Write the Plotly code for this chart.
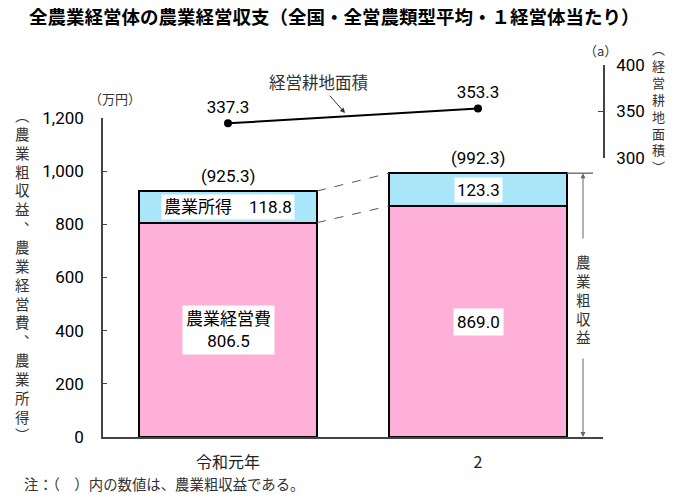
import plotly.graph_objects as go

# ---- data ----
categories = ["令和元年", "2"]
x_pos = [0, 1]
expenses = [806.5, 869.0]      # 農業経営費
income = [118.8, 123.3]        # 農業所得
gross = [925.3, 992.3]         # 農業粗収益
land = [337.3, 353.3]          # 経営耕地面積 (a)
y_ticks = [0, 200, 400, 600, 800, 1000, 1200]
y_ticklabels = ["0", "200", "400", "600", "800", "1,000", "1,200"]
y2_ticks = [300, 350, 400]
y2_ticklabels = ["300", "350", "400"]

title_text = "全農業経営体の農業経営収支（全国・全営農類型平均・１経営体当たり）"
left_title = "（農業粗収益、農業経営費、農業所得）"
right_title = "（経営耕地面積）"
gross_title = "農業粗収益"
line_name = "経営耕地面積"
note_text = "注：（　）内の数値は、農業粗収益である。"

NUM = "Roboto, Noto Sans CJK JP, sans-serif"
JP = "Noto Sans CJK JP, sans-serif"
PINK = "#FFB0D8"
BLUE = "#AAE6FA"
BW = 0.712


def vert(s):
    m = {"（": "︵", "）": "︶", "、": "︑"}
    return "<br>".join(m.get(c, c) for c in s)


fig = go.Figure()
fig.add_trace(go.Bar(x=x_pos, y=expenses, width=BW, marker=dict(color=PINK, line=dict(color="black", width=2)),
                     showlegend=False, hoverinfo="skip"))
fig.add_trace(go.Bar(x=x_pos, y=income, width=BW, marker=dict(color=BLUE, line=dict(color="black", width=2)),
                     showlegend=False, hoverinfo="skip"))
fig.add_trace(go.Scatter(x=x_pos, y=land, yaxis="y2", mode="lines+markers+text",
                         line=dict(color="black", width=2), marker=dict(color="black", size=8),
                         text=[f"{v:.1f}" for v in land], textposition="top center",
                         textfont=dict(family=NUM, size=17, color="black"),
                         cliponaxis=False, showlegend=False, hoverinfo="skip"))

ann = []
for i, xp in enumerate(x_pos):
    ann.append(dict(x=xp, y=gross[i], xref="x", yref="y", text=f"({gross[i]:.1f})", showarrow=False,
                    xanchor="center", yanchor="bottom", yshift=3, font=dict(family=NUM, size=17, color="black")))
    itxt = f"農業所得　{income[i]:.1f}" if i == 0 else f"{income[i]:.1f}"
    ann.append(dict(x=xp, y=expenses[i] + income[i] / 2, xref="x", yref="y", text=itxt, showarrow=False,
                    xanchor="center", yanchor="middle",
                    bgcolor="white", borderpad=2, font=dict(family=NUM, size=17, color="black")))
    etxt = f"農業経営費<br>{expenses[i]:.1f}" if i == 0 else f"{expenses[i]:.1f}"
    ann.append(dict(x=xp, y=expenses[i] / 2, xref="x", yref="y", text=etxt, showarrow=False,
                    xanchor="center", yanchor="middle",
                    bgcolor="white", borderpad=3, font=dict(family=NUM, size=17, color="black")))

# line label with arrow
ann.append(dict(x=0.468, y=348.4, xref="x", yref="y2", ax=0.36, ay=381.5, axref="x", ayref="y2",
                text=line_name, showarrow=True, arrowhead=2, arrowsize=1, arrowwidth=1, arrowcolor="#333",
                font=dict(family=JP, size=16.5, color="#333")))

# gross revenue double arrow on right
ax_x = 1.42
ann.append(dict(x=ax_x, y=gross[1], xref="x", yref="y", ax=ax_x, ay=741, axref="x", ayref="y",
                text="", showarrow=True, arrowhead=2, arrowsize=1, arrowwidth=1, arrowcolor="#666"))
ann.append(dict(x=ax_x, y=0, xref="x", yref="y", ax=ax_x, ay=301, axref="x", ayref="y",
                text="", showarrow=True, arrowhead=2, arrowsize=1, arrowwidth=1, arrowcolor="#666"))
ann.append(dict(x=ax_x, y=521, xref="x", yref="y", text=vert(gross_title), showarrow=False,
                xanchor="center", yanchor="middle", font=dict(family=JP, size=14.5, color="#333")))

# axis titles and units
ann.append(dict(x=-0.162, y=0.438, xref="paper", yref="paper", text=vert(left_title), showarrow=False,
                xanchor="center", yanchor="middle", font=dict(family=JP, size=14.5, color="#333")))
ann.append(dict(x=1.11, y=0.887, xref="paper", yref="paper", text=vert(right_title), showarrow=False,
                xanchor="center", yanchor="middle", font=dict(family=JP, size=13, color="#333")))
ann.append(dict(x=0.024, y=0.911, xref="paper", yref="paper", text="（万円）", showarrow=False,
                xanchor="center", yanchor="middle", font=dict(family=JP, size=13, color="#333")))
ann.append(dict(x=0.994, y=1.04, xref="paper", yref="paper", text="（a）", showarrow=False,
                xanchor="center", yanchor="middle", font=dict(family=JP, size=13, color="#333")))
ann.append(dict(x=-0.162, y=-0.124, xref="paper", yref="paper", text=note_text, showarrow=False,
                xanchor="left", yanchor="middle", font=dict(family=JP, size=14.4, color="#333")))

shapes = [
    dict(type="line", xref="x", yref="y", x0=x_pos[0] + BW / 2, y0=gross[0], x1=x_pos[1] - BW / 2, y1=gross[1],
         line=dict(color="#555", width=1, dash="dash")),
    dict(type="line", xref="x", yref="y", x0=x_pos[0] + BW / 2, y0=expenses[0], x1=x_pos[1] - BW / 2,
         y1=expenses[1], line=dict(color="#555", width=1, dash="dash")),
    dict(type="line", xref="x", yref="y", x0=x_pos[1] + BW / 2, y0=gross[1], x1=1.46, y1=gross[1],
         line=dict(color="#777", width=1.5)),
]

fig.update_layout(
    width=688, height=500, margin=dict(l=103, r=85, t=65, b=63),
    paper_bgcolor="white", plot_bgcolor="white", barmode="stack",
    title=dict(text="<b>" + title_text + "</b>", x=0.042, xanchor="left", xref="container",
               y=1 - 18 / 500, yref="container", yanchor="middle",
               font=dict(family=JP, size=18.5, color="black")),
    xaxis=dict(range=[-0.5, 1.5], tickvals=x_pos, ticktext=categories, showline=True, linecolor="#444",
               linewidth=2, ticks="", showgrid=False, zeroline=False, fixedrange=True, ticklabelstandoff=10,
               tickfont=dict(family=JP, size=16, color="#222")),
    yaxis=dict(domain=[0, 319 / 372], range=[0, 1200], tickvals=y_ticks, ticktext=y_ticklabels,
               showline=True, linecolor="#444", linewidth=1.5, ticks="inside", ticklen=4, tickcolor="#444",
               ticklabelstandoff=14,
               showgrid=False, zeroline=False, tickfont=dict(family=NUM, size=17, color="black")),
    yaxis2=dict(domain=[279 / 372, 1], range=[300, 400], tickvals=y2_ticks, ticktext=y2_ticklabels,
                anchor="x", side="right", showline=True, linecolor="#444", linewidth=1.5, ticks="inside",
                ticklen=5, tickcolor="#444", showgrid=False, zeroline=False, ticklabelstandoff=8,
                tickfont=dict(family=NUM, size=17, color="black")),
    annotations=ann, shapes=shapes,
)

fig.write_html("out.html")
